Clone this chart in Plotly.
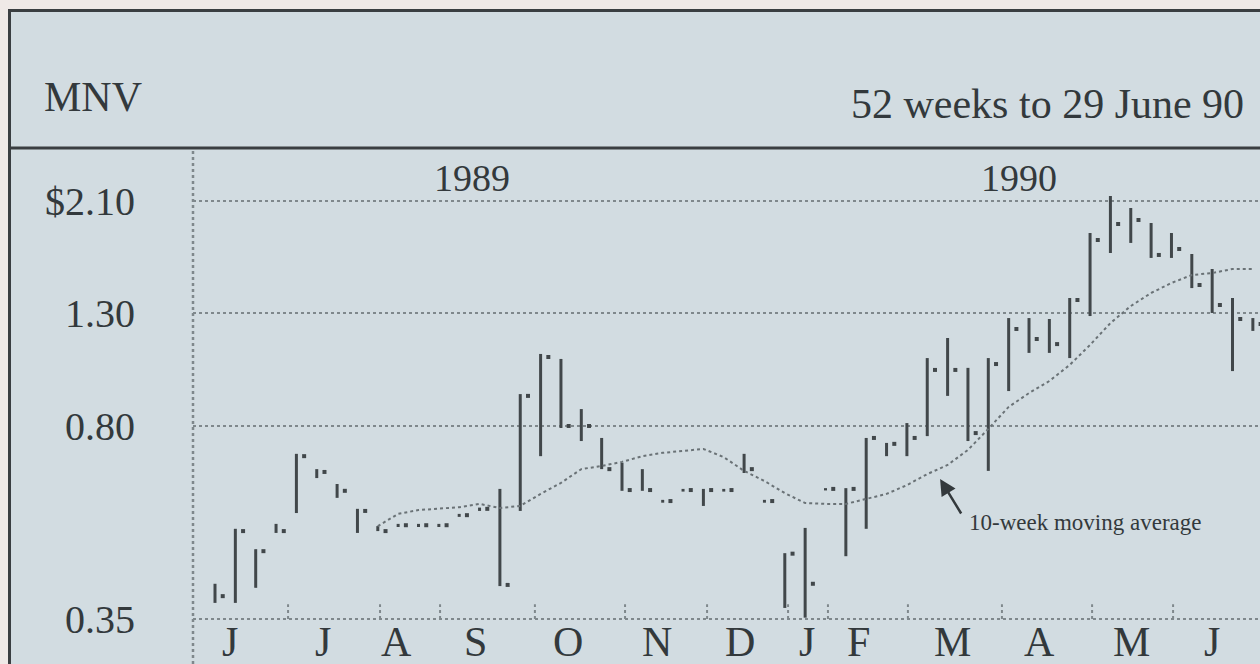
import math
import plotly.graph_objects as go

# ---------------- data ----------------
weeks = list(range(1, 53))

high = [0.407, 0.515, 0.472, 0.526, 0.710, 0.665, 0.624, 0.561, 0.521, 0.526,
        0.526, 0.526, 0.549, 0.564, 0.611, 0.917, 1.089, 1.066, 0.860, 0.760,
        0.683, 0.665, 0.583, 0.611, 0.611, 0.611, 0.710, 0.583, 0.464, 0.517,
        0.613, 0.613, 0.760, 0.744, 0.810, 1.070, 1.166, 1.026, 1.070, 1.270,
        1.270, 1.265, 1.384, 1.828, 2.142, 2.035, 1.908, 1.828, 1.671, 1.567,
        1.384, 1.270]

low = [0.375, 0.375, 0.400, 0.506, 0.551, 0.640, 0.588, 0.506, 0.510, 0.519,
       0.519, 0.519, 0.542, 0.556, 0.403, 0.556, 0.703, 0.793, 0.750, 0.665,
       0.606, 0.606, 0.576, 0.604, 0.568, 0.604, 0.654, 0.576, 0.367, 0.352,
       0.607, 0.458, 0.515, 0.703, 0.703, 0.766, 0.910, 0.750, 0.660, 0.929,
       1.094, 1.094, 1.070, 1.281, 1.678, 1.752, 1.643, 1.643, 1.444, 1.298,
       1.012, 1.202]

close = [0.386, 0.510, 0.468, 0.510, 0.703, 0.657, 0.606, 0.556, 0.510, 0.523,
         0.523, 0.523, 0.546, 0.561, 0.405, 0.910, 1.075, 0.800, 0.800, 0.665,
         0.608, 0.608, 0.580, 0.608, 0.608, 0.608, 0.665, 0.580, 0.463, 0.407,
         0.611, 0.611, 0.760, 0.741, 0.760, 1.017, 1.017, 0.776, 1.043, 1.212,
         1.161, 1.136, 1.372, 1.774, 1.900, 1.933, 1.664, 1.707, 1.463, 1.343,
         1.265, 1.238]

moving_avg = [None, None, None, None, None, None, None, None,
              0.521, 0.549, 0.558, 0.561, 0.565, 0.573, 0.563, 0.568, 0.598, 0.627,
              0.665, 0.674, 0.686, 0.703, 0.713, 0.719, 0.725, 0.700, 0.660, 0.632,
              0.600, 0.575, 0.573, 0.573, 0.585, 0.598, 0.621, 0.651, 0.677, 0.722,
              0.790, 0.868, 0.921, 0.970, 1.039, 1.132, 1.243, 1.337, 1.414, 1.476,
              1.527, 1.540, 1.567, 1.567]

price_ticks = [0.35, 0.80, 1.30, 2.10]
price_tick_text = ["0.35", "0.80", "1.30", "$2.10"]

month_labels = ["J", "J", "A", "S", "O", "N", "D", "J", "F", "M", "A", "M", "J"]
month_label_pos = [1.74, 6.31, 9.94, 13.78, 18.35, 22.72, 26.80, 30.09, 32.60,
                   37.22, 41.54, 46.06, 49.99]
month_ticks = [4.59, 9.11, 12.06, 16.72, 21.15, 25.18, 29.16, 31.12, 35.05,
               39.67, 44.10, 48.08]

year_labels = ["1989", "1990"]
year_label_pos = [13.63, 40.51]

title_left = "MNV"
title_right = "52 weeks to 29 June 90"
ma_label = "10-week moving average"
ma_arrow_point = (36.63, 0.6375)
ma_label_point = (37.95, 0.528)

# ---------------- style ----------------
W, H = 1260, 664
ML, MT = 193, 150
PW, PH = W - ML, H - MT
BG = "#d2dce1"
EDGE = "#efe9e7"
INK = "#33393c"
BAR = "#41474a"
GRID = "#7f888c"
FONT = "Liberation Serif"


def px_x(px):
    return (px - ML) / PW


def px_y(py):
    return (H - py) / PH


fig = go.Figure()

# high-low bars
bx, by = [], []
for w, lo, hi in zip(weeks, low, high):
    bx += [w, w, None]
    by += [lo, hi, None]
fig.add_trace(go.Scatter(x=bx, y=by, mode="lines",
                         line=dict(color=BAR, width=3), hoverinfo="skip"))

# closing ticks (drawn just right of each bar)
fig.add_trace(go.Scatter(x=[w + 0.38 for w in weeks], y=close, mode="markers",
                         marker=dict(symbol="square", size=4, color=BAR,
                                     line=dict(width=0))))

# moving average
fig.add_trace(go.Scatter(x=weeks, y=moving_avg, mode="lines",
                         line=dict(color="#6a7276", width=2, dash="dot")))

shapes = []
# outer pale edges
shapes.append(dict(type="rect", xref="paper", yref="paper",
                   x0=px_x(0), x1=px_x(W), y0=px_y(0), y1=px_y(9),
                   fillcolor=EDGE, line=dict(width=0), layer="below"))
shapes.append(dict(type="rect", xref="paper", yref="paper",
                   x0=px_x(0), x1=px_x(8), y0=px_y(0), y1=px_y(H),
                   fillcolor=EDGE, line=dict(width=0), layer="below"))
# frame lines
for (x0, y0, x1, y1) in [(8, 10.5, W, 10.5), (9.5, 9, 9.5, H), (8, 148, W, 148)]:
    shapes.append(dict(type="line", xref="paper", yref="paper",
                       x0=px_x(x0), x1=px_x(x1), y0=px_y(y0), y1=px_y(y1),
                       line=dict(color="#3a3e41", width=3)))
# dotted left axis line
shapes.append(dict(type="line", xref="paper", yref="paper",
                   x0=0, x1=0, y0=0, y1=px_y(150),
                   line=dict(color=GRID, width=2.5, dash="dot")))
# month boundary ticks
for t in month_ticks:
    shapes.append(dict(type="line", xref="x", yref="y", x0=t, x1=t,
                       y0=0.35, y1=0.373,
                       line=dict(color=GRID, width=2, dash="dot")))

annotations = []
annotations.append(dict(text=title_left, xref="paper", yref="paper",
                        x=px_x(42), y=px_y(97), xanchor="left", yanchor="middle",
                        showarrow=False, font=dict(family=FONT, size=42, color=INK)))
annotations.append(dict(text=title_right, xref="paper", yref="paper",
                        x=px_x(1246), y=px_y(104), xanchor="right", yanchor="middle",
                        showarrow=False, font=dict(family=FONT, size=42, color=INK)))
for lab, pos in zip(year_labels, year_label_pos):
    annotations.append(dict(text=lab, xref="x", yref="paper", x=pos, y=px_y(178),
                            xanchor="center", yanchor="middle", showarrow=False,
                            font=dict(family=FONT, size=38, color=INK)))
for lab, pos in zip(month_labels, month_label_pos):
    annotations.append(dict(text=lab, xref="x", yref="paper", x=pos, y=px_y(642),
                            xanchor="center", yanchor="middle", showarrow=False,
                            font=dict(family=FONT, size=42, color=INK)))
# annotations on a log axis take log10 positions
annotations.append(dict(text="", x=ma_arrow_point[0], y=math.log10(ma_arrow_point[1]),
                        xref="x", yref="y", showarrow=True, ax=22, ay=36,
                        arrowhead=2, arrowsize=1.3, arrowwidth=2.5, arrowcolor=INK))
annotations.append(dict(text=ma_label, x=ma_label_point[0],
                        y=math.log10(ma_label_point[1]), xref="x", yref="y",
                        xanchor="left", yanchor="middle", showarrow=False,
                        font=dict(family=FONT, size=23, color=INK)))

fig.update_layout(
    width=W, height=H,
    margin=dict(l=ML, r=0, t=MT, b=0, pad=0),
    paper_bgcolor=BG, plot_bgcolor=BG,
    showlegend=False,
    shapes=shapes, annotations=annotations,
    xaxis=dict(range=[-0.081, 52.351], showgrid=False, showticklabels=False,
               zeroline=False, showline=False, ticks=""),
    yaxis=dict(type="log", range=[-0.53963, 0.41638], tickvals=price_ticks,
               ticktext=price_tick_text, showgrid=True, gridcolor=GRID,
               gridwidth=2, griddash="dot", ticks="", zeroline=False,
               showline=False, ticklabelstandoff=57,
               tickfont=dict(family=FONT, size=40, color=INK)),
)

fig.write_html("out.html", config={"displayModeBar": False},
               post_script="document.body.style.margin='0';")
